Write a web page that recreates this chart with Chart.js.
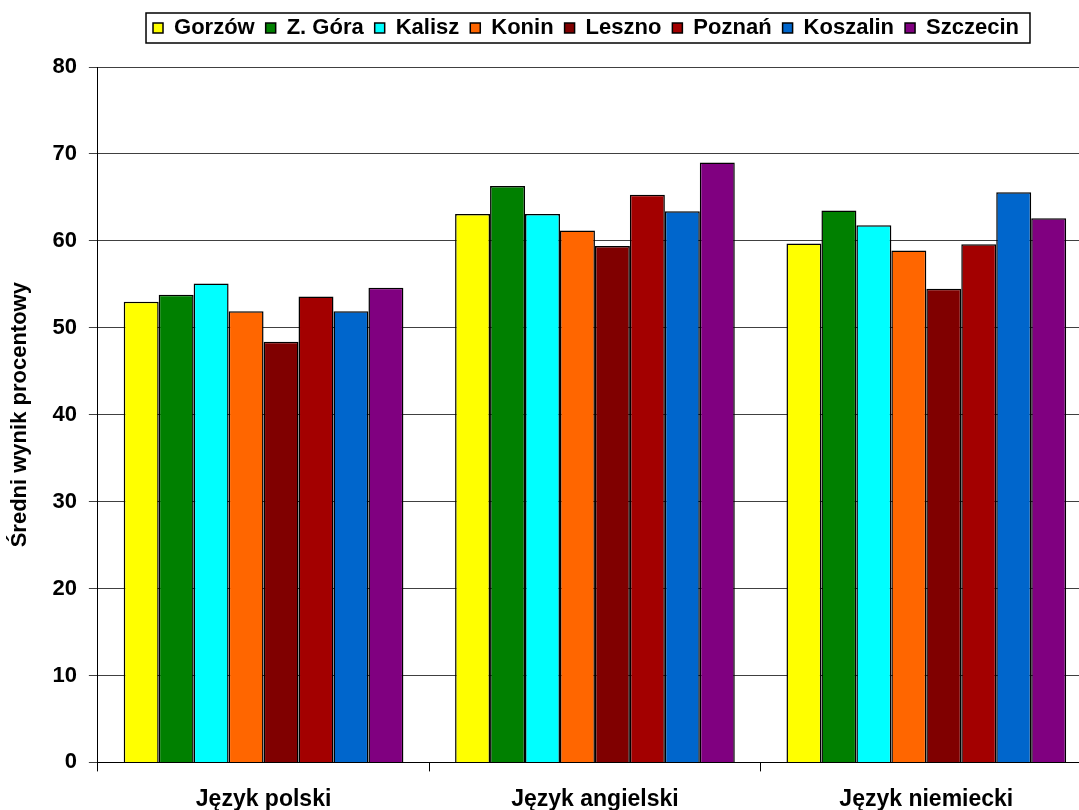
<!DOCTYPE html>
<html>
<head>
<meta charset="utf-8">
<script src="https://cdn.jsdelivr.net/npm/chart.js@4/dist/chart.umd.min.js"></script>
<style>
    html, body { margin: 0; padding: 0; background: #fff; overflow: hidden; }
    #wrap { position: relative; width: 1100px; height: 827px; }
</style>
</head>
<body>
<div id="wrap"><canvas id="wynikiChart"></canvas></div>
<script>
// przedmioty (kategorie)
var subjects = ['Język polski', 'Język angielski', 'Język niemiecki'];

// średnie wyniki w % dla każdego miasta
var gorzow   = [53.0, 63.1, 59.7];
var zGora    = [53.8, 66.3, 63.5];
var kalisz   = [55.1, 63.1, 61.8];
var konin    = [51.9, 61.2, 58.9];
var leszno   = [48.4, 59.4, 54.5];
var poznan   = [53.6, 65.3, 59.6];
var koszalin = [51.9, 63.4, 65.6];
var szczecin = [54.6, 69.0, 62.6];

var yTicks = [0, 10, 20, 30, 40, 50, 60, 70, 80];

var myChart;

Chart.defaults.font.family = '"Liberation Sans", Arial, sans-serif';
Chart.defaults.font.weight = 'bold';
Chart.defaults.font.size = 22;
Chart.defaults.color = '#000';

// ramka legendy + przesunięcie legendy w prawo / do góry
var legendFrame = {
    id: 'legendFrame',
    afterLayout: function (chart) {
        var lg = chart.legend;
        lg.left += 40; lg.right += 40;
        lg.top -= 18; lg.bottom -= 18;
    },
    afterDraw: function (chart) {
        var lg = chart.legend;
        var pad = lg.options.labels.padding;
        var x = (lg.left + pad + lg.right - lg.lineWidths[0]) / 2;
        var ctx = chart.ctx;
        ctx.save();
        ctx.strokeStyle = '#000';
        ctx.lineWidth = 1.5;
        ctx.strokeRect(x - 7, lg.top + 7, lg.lineWidths[0] + 7, 30);
        ctx.restore();
    }
};

function makeSet(label, data, color) {
    return {
        label: label,
        data: data,
        backgroundColor: color,
        borderColor: '#000',
        borderWidth: 1.5,
        barPercentage: 1.0,
        categoryPercentage: 0.844
    };
}

window.addEventListener('DOMContentLoaded', initializeChart);

function initializeChart() {
    var ctx = document.getElementById('wynikiChart').getContext('2d');
    myChart = new Chart(ctx, {
        type: 'bar',
        data: {
            labels: subjects,
            datasets: [
                makeSet('Gorzów', gorzow, '#FFFF00'),
                makeSet('Z. Góra', zGora, '#008000'),
                makeSet('Kalisz', kalisz, '#00FFFF'),
                makeSet('Konin', konin, '#FF6600'),
                makeSet('Leszno', leszno, '#800000'),
                makeSet('Poznań', poznan, '#A30000'),
                makeSet('Koszalin', koszalin, '#0066CC'),
                makeSet('Szczecin', szczecin, '#800080')
            ]
        },
        options: {
            responsive: true,
            maintainAspectRatio: false,
            animation: false,
            layout: { padding: { left: 0, right: 8, top: 24, bottom: 0 } },
            plugins: {
                tooltip: { enabled: false },
                legend: {
                    position: 'top',
                    labels: {
                        boxWidth: 10,
                        boxHeight: 10,
                        padding: 11,
                        font: { size: 22, weight: 'bold' }
                    }
                }
            },
            scales: {
                x: {
                    grid: {
                        display: true,
                        drawOnChartArea: false,
                        drawTicks: true,
                        tickLength: 9,
                        color: '#000'
                    },
                    border: { color: '#000', width: 1 },
                    ticks: { padding: 14, font: { size: 23, weight: 'bold' } }
                },
                y: {
                    min: 0,
                    max: 80,
                    afterBuildTicks: function (axis) {
                        axis.ticks = yTicks.map(function (v) { return { value: v }; });
                    },
                    grid: { color: '#404040', tickLength: 9 },
                    border: { color: '#000', width: 1 },
                    ticks: { padding: 12, font: { size: 22, weight: 'bold' } },
                    title: {
                        display: true,
                        text: 'Średni wynik procentowy',
                        padding: { top: 7, bottom: 7 },
                        font: { size: 22, weight: 'bold' }
                    }
                }
            }
        },
        plugins: [legendFrame]
    });
}
</script>
</body>
</html>
